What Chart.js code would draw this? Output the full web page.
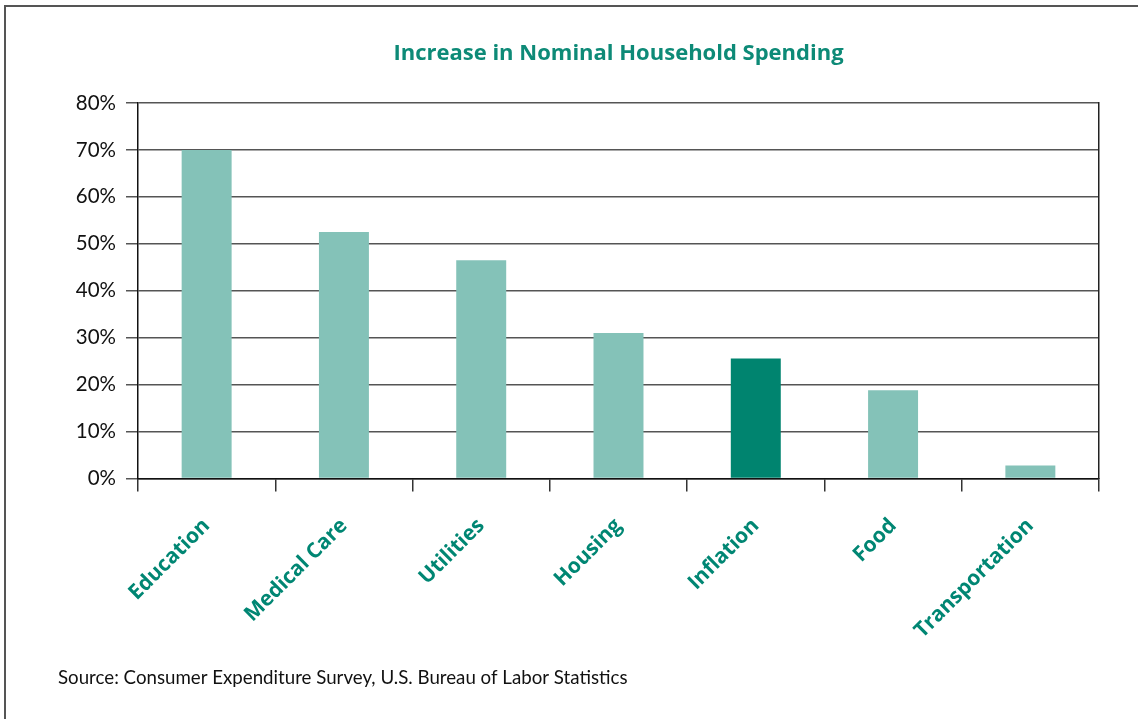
<!DOCTYPE html>
<html>
<head>
<meta charset="utf-8">
<script src="https://cdn.jsdelivr.net/npm/chart.js@4/dist/chart.umd.min.js"></script>
<style>
    html, body { margin: 0; background: #fff; overflow: hidden; }
    #frame {
        position: absolute; left: 4px; top: 5px; width: 1150px; height: 730px;
        border-left: 2px solid #555; border-top: 2px solid #555;
    }
    #wrap { position: absolute; left: 0; top: 0; width: 1138px; height: 719px; }
</style>
</head>
<body>
<div id="frame"></div>
<div id="wrap"><canvas id="spending" width="1138" height="719"></canvas></div>
<script>
const categories = ["Education", "Medical Care", "Utilities", "Housing", "Inflation", "Food", "Transportation"];
const increase = [70, 52.5, 46.5, 31, 25.6, 18.8, 2.8];
const yTicks = [0, 10, 20, 30, 40, 50, 60, 70, 80];

const light = "#84c2b8";
const dark = "#00846f";
const teal = "#008673";

// inflation is the reference bar, drawn darker
const colors = categories.map(c => c == "Inflation" ? dark : light);

new Chart("spending", {
    type: "bar",
    data: {
        labels: categories,
        datasets: [{
            data: increase,
            backgroundColor: colors,
            borderWidth: 0,
            barPercentage: 0.364,
            categoryPercentage: 1
        }]
    },
    options: {
        responsive: false,
        animation: false,
        events: [],
        layout: { padding: { left: 58, right: 39, top: 0, bottom: 0 } },
        plugins: {
            legend: { display: false },
            tooltip: { enabled: false },
            title: {
                display: true,
                fullSize: false,
                text: "Increase in Nominal Household Spending",
                color: "#0d8a77",
                font: { family: "Open Sans", size: 22, weight: "bold" },
                padding: { top: 41, bottom: 35.6 }
            },
            subtitle: {
                display: true,
                position: "bottom",
                align: "start",
                text: "Source: Consumer Expenditure Survey, U.S. Bureau of Labor Statistics",
                color: "#111",
                font: { family: "Lato", size: 18.7 },
                padding: { top: 28, bottom: 30 }
            }
        },
        scales: {
            x: {
                afterFit: s => { s.height = 160; },
                grid: {
                    offset: true,
                    drawOnChartArea: false,
                    drawTicks: true,
                    tickLength: 13,
                    color: "#333",
                    lineWidth: 1.5
                },
                border: { color: "#111", width: 1.5 },
                ticks: {
                    minRotation: 45,
                    maxRotation: 45,
                    padding: 22,
                    color: teal,
                    font: { family: "Open Sans", size: 21, weight: "bold" }
                }
            },
            y: {
                min: 0,
                max: 80,
                afterFit: s => { s.width = 80; },
                afterBuildTicks: s => { s.ticks = yTicks.map(v => ({ value: v })); },
                grid: { color: "#555", lineWidth: 1.5, tickLength: 12 },
                border: { color: "#111", width: 1.5 },
                ticks: {
                    padding: 10,
                    color: "#111",
                    font: { family: "Lato", size: 20.5 },
                    callback: v => v + "%"
                }
            },
            // plain line closing the plot on the right
            edge: {
                position: "right",
                afterFit: s => { s.width = 0; },
                grid: { drawOnChartArea: false, drawTicks: false },
                border: { color: "#222", width: 1.5 },
                ticks: { display: false }
            }
        }
    }
});
</script>
</body>
</html>
